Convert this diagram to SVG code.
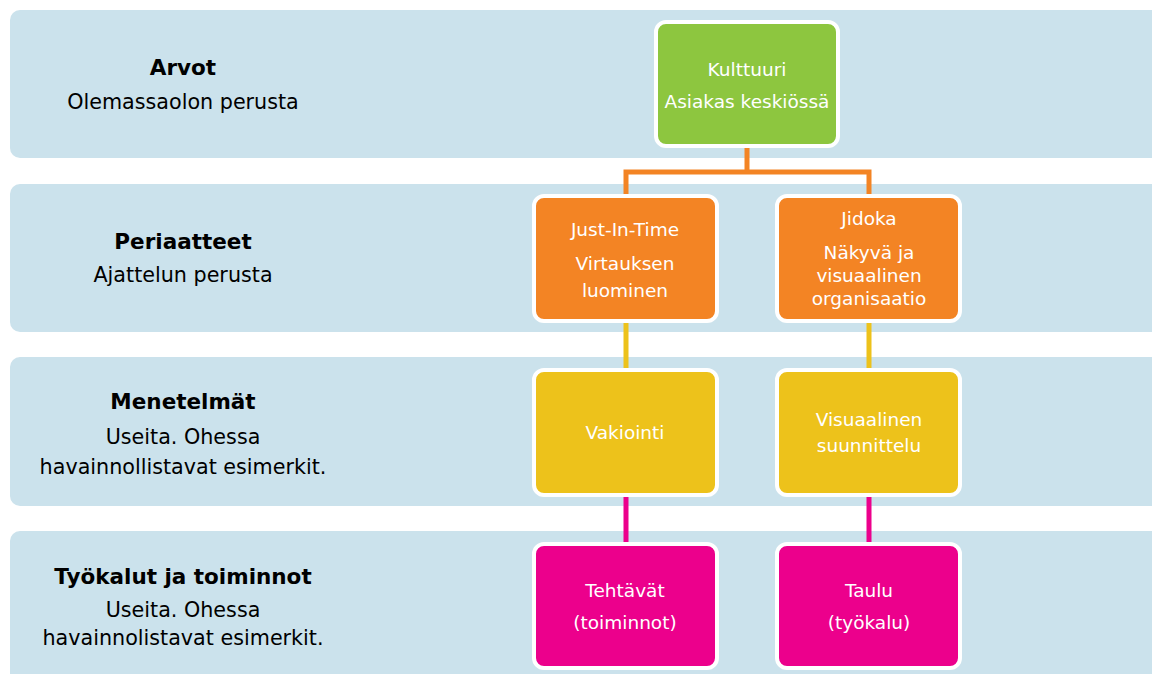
<svg xmlns="http://www.w3.org/2000/svg" width="1152" height="674" viewBox="0 0 1152 674">
  <style>
    .band { fill: #cbe2ec; }
    .node rect { stroke: #ffffff; stroke-width: 4; }
    .green rect { fill: #8dc63f; }
    .orange rect { fill: #f38424; }
    .yellow rect { fill: #edc21b; }
    .pink rect { fill: #ec008c; }
    .node text { fill: #ffffff; font-family: "DejaVu Sans", Verdana, sans-serif; font-size: 18.5px; text-anchor: middle; }
    .lbl { fill: #000000; font-family: "DejaVu Sans", Verdana, sans-serif; font-size: 20.7px; text-anchor: middle; }
    .lbl .b { font-weight: bold; font-size: 21.5px; }
    .c { fill: none; stroke-width: 5; }
  </style>

  <!-- horizontal layer bands -->
  <g id="bands">
    <rect class="band" x="10" y="10" width="1160" height="148" rx="10"/>
    <rect class="band" x="10" y="184" width="1160" height="148" rx="10"/>
    <rect class="band" x="10" y="357" width="1160" height="149" rx="10"/>
    <rect class="band" x="10" y="531" width="1160" height="160" rx="10"/>
  </g>

  <!-- layer titles -->
  <g id="layer-arvot" class="lbl">
    <text class="b" x="183" y="75">Arvot</text>
    <text x="183" y="109">Olemassaolon perusta</text>
  </g>
  <g id="layer-periaatteet" class="lbl">
    <text class="b" x="183" y="249">Periaatteet</text>
    <text x="183" y="282">Ajattelun perusta</text>
  </g>
  <g id="layer-menetelmat" class="lbl">
    <text class="b" x="183" y="409">Menetelmät</text>
    <text x="183" y="444">Useita. Ohessa</text>
    <text x="183" y="474">havainnollistavat esimerkit.</text>
  </g>
  <g id="layer-tyokalut" class="lbl">
    <text class="b" x="183" y="584">Työkalut ja toiminnot</text>
    <text x="183" y="617">Useita. Ohessa</text>
    <text x="183" y="645">havainnolistavat esimerkit.</text>
  </g>

  <!-- connectors -->
  <g id="connectors">
    <path class="c" stroke="#f38424" d="M747 146 V172 M626 195 V172 H869 V195"/>
    <path class="c" stroke="#edc21b" d="M626 320 V370 M869 320 V370"/>
    <path class="c" stroke="#ec008c" d="M626 494 V544 M869 494 V544"/>
  </g>

  <!-- nodes -->
  <g id="kulttuuri" class="node green">
    <rect x="656" y="22" width="182" height="124" rx="10"/>
    <text x="747" y="76">Kulttuuri</text>
    <text x="747" y="108">Asiakas keskiössä</text>
  </g>
  <g id="just-in-time" class="node orange">
    <rect x="534" y="196" width="183" height="125" rx="10"/>
    <text x="625" y="236">Just-In-Time</text>
    <text x="625" y="270">Virtauksen</text>
    <text x="625" y="297">luominen</text>
  </g>
  <g id="jidoka" class="node orange">
    <rect x="777" y="196" width="183" height="125" rx="10"/>
    <text x="869" y="225">Jidoka</text>
    <text x="869" y="259">Näkyvä ja</text>
    <text x="869" y="282">visuaalinen</text>
    <text x="869" y="305">organisaatio</text>
  </g>
  <g id="vakiointi" class="node yellow">
    <rect x="534" y="370" width="183" height="125" rx="10"/>
    <text x="625" y="439">Vakiointi</text>
  </g>
  <g id="visuaalinen-suunnittelu" class="node yellow">
    <rect x="777" y="370" width="183" height="125" rx="10"/>
    <text x="869" y="426">Visuaalinen</text>
    <text x="869" y="452">suunnittelu</text>
  </g>
  <g id="tehtavat" class="node pink">
    <rect x="534" y="544" width="183" height="124" rx="10"/>
    <text x="625" y="597">Tehtävät</text>
    <text x="625" y="629">(toiminnot)</text>
  </g>
  <g id="taulu" class="node pink">
    <rect x="777" y="544" width="183" height="124" rx="10"/>
    <text x="869" y="597">Taulu</text>
    <text x="869" y="629">(työkalu)</text>
  </g>
</svg>
